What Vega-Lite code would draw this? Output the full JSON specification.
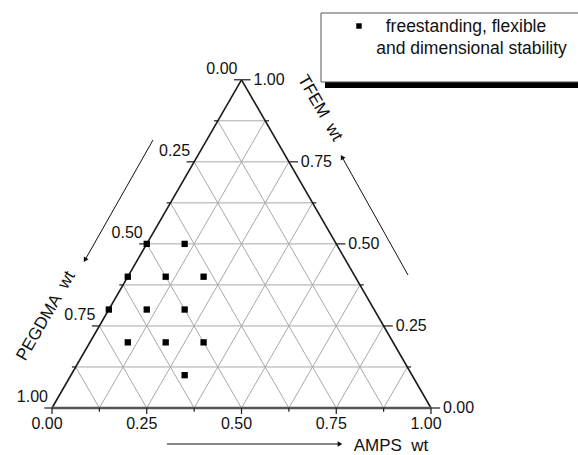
{
  "$schema": "https://vega.github.io/schema/vega-lite/v6.json",
  "width": 578,
  "height": 455,
  "autosize": "none",
  "padding": 0,
  "config": {"view": {"stroke": null}, "font": "Liberation Sans", "text": {"font": "Liberation Sans"}},
  "datasets": {
    "one": [{}],
    "points": [
      {"AMPS": 0.0, "TFEM": 0.5, "PEGDMA": 0.5, "x": 0.25, "y": 0.433013},
      {"AMPS": 0.1, "TFEM": 0.5, "PEGDMA": 0.4, "x": 0.35, "y": 0.433013},
      {"AMPS": 0.0, "TFEM": 0.4, "PEGDMA": 0.6, "x": 0.2, "y": 0.34641},
      {"AMPS": 0.1, "TFEM": 0.4, "PEGDMA": 0.5, "x": 0.3, "y": 0.34641},
      {"AMPS": 0.2, "TFEM": 0.4, "PEGDMA": 0.4, "x": 0.4, "y": 0.34641},
      {"AMPS": 0.0, "TFEM": 0.3, "PEGDMA": 0.7, "x": 0.15, "y": 0.259808},
      {"AMPS": 0.1, "TFEM": 0.3, "PEGDMA": 0.6, "x": 0.25, "y": 0.259808},
      {"AMPS": 0.2, "TFEM": 0.3, "PEGDMA": 0.5, "x": 0.35, "y": 0.259808},
      {"AMPS": 0.1, "TFEM": 0.2, "PEGDMA": 0.7, "x": 0.2, "y": 0.173205},
      {"AMPS": 0.2, "TFEM": 0.2, "PEGDMA": 0.6, "x": 0.3, "y": 0.173205},
      {"AMPS": 0.3, "TFEM": 0.2, "PEGDMA": 0.5, "x": 0.4, "y": 0.173205},
      {"AMPS": 0.3, "TFEM": 0.1, "PEGDMA": 0.6, "x": 0.35, "y": 0.086603}
    ],
    "grid": [
      {"x": 0.0625, "y": 0.108253, "x2": 0.9375, "y2": 0.108253},
      {"x": 0.125, "y": 0.216506, "x2": 0.875, "y2": 0.216506},
      {"x": 0.1875, "y": 0.32476, "x2": 0.8125, "y2": 0.32476},
      {"x": 0.25, "y": 0.433013, "x2": 0.75, "y2": 0.433013},
      {"x": 0.3125, "y": 0.541266, "x2": 0.6875, "y2": 0.541266},
      {"x": 0.375, "y": 0.649519, "x2": 0.625, "y2": 0.649519},
      {"x": 0.4375, "y": 0.757772, "x2": 0.5625, "y2": 0.757772},
      {"x": 0.125, "y": 0, "x2": 0.5625, "y2": 0.757772},
      {"x": 0.25, "y": 0, "x2": 0.625, "y2": 0.649519},
      {"x": 0.375, "y": 0, "x2": 0.6875, "y2": 0.541266},
      {"x": 0.5, "y": 0, "x2": 0.75, "y2": 0.433013},
      {"x": 0.625, "y": 0, "x2": 0.8125, "y2": 0.32476},
      {"x": 0.75, "y": 0, "x2": 0.875, "y2": 0.216506},
      {"x": 0.875, "y": 0, "x2": 0.9375, "y2": 0.108253},
      {"x": 0.125, "y": 0, "x2": 0.0625, "y2": 0.108253},
      {"x": 0.25, "y": 0, "x2": 0.125, "y2": 0.216506},
      {"x": 0.375, "y": 0, "x2": 0.1875, "y2": 0.32476},
      {"x": 0.5, "y": 0, "x2": 0.25, "y2": 0.433013},
      {"x": 0.625, "y": 0, "x2": 0.3125, "y2": 0.541266},
      {"x": 0.75, "y": 0, "x2": 0.375, "y2": 0.649519},
      {"x": 0.875, "y": 0, "x2": 0.4375, "y2": 0.757772}
    ],
    "edges": [
      {"edge": "left", "x": 0, "y": 0, "x2": 0.5, "y2": 0.866025},
      {"edge": "right", "x": 1, "y": 0, "x2": 0.5, "y2": 0.866025}
    ],
    "ticks": [
      {"x": 0.5, "y": 0.866025, "x2": 0.48, "y2": 0.866025},
      {"x": 0.4375, "y": 0.757772, "x2": 0.4275, "y2": 0.757772},
      {"x": 0.375, "y": 0.649519, "x2": 0.355, "y2": 0.649519},
      {"x": 0.3125, "y": 0.541266, "x2": 0.3025, "y2": 0.541266},
      {"x": 0.25, "y": 0.433013, "x2": 0.23, "y2": 0.433013},
      {"x": 0.1875, "y": 0.32476, "x2": 0.1775, "y2": 0.32476},
      {"x": 0.125, "y": 0.216506, "x2": 0.105, "y2": 0.216506},
      {"x": 0.0625, "y": 0.108253, "x2": 0.0525, "y2": 0.108253},
      {"x": 0, "y": 0, "x2": -0.02, "y2": 0},
      {"x": 1, "y": 0, "x2": 1.024, "y2": 0},
      {"x": 0.9375, "y": 0.108253, "x2": 0.9475, "y2": 0.108253},
      {"x": 0.875, "y": 0.216506, "x2": 0.899, "y2": 0.216506},
      {"x": 0.8125, "y": 0.32476, "x2": 0.8225, "y2": 0.32476},
      {"x": 0.75, "y": 0.433013, "x2": 0.774, "y2": 0.433013},
      {"x": 0.6875, "y": 0.541266, "x2": 0.6975, "y2": 0.541266},
      {"x": 0.625, "y": 0.649519, "x2": 0.649, "y2": 0.649519},
      {"x": 0.5625, "y": 0.757772, "x2": 0.5725, "y2": 0.757772},
      {"x": 0.5, "y": 0.866025, "x2": 0.524, "y2": 0.866025},
      {"x": 0, "y": 0, "x2": 0, "y2": -0.016},
      {"x": 0.125, "y": 0, "x2": 0.125, "y2": -0.01},
      {"x": 0.25, "y": 0, "x2": 0.25, "y2": -0.016},
      {"x": 0.375, "y": 0, "x2": 0.375, "y2": -0.01},
      {"x": 0.5, "y": 0, "x2": 0.5, "y2": -0.016},
      {"x": 0.625, "y": 0, "x2": 0.625, "y2": -0.01},
      {"x": 0.75, "y": 0, "x2": 0.75, "y2": -0.016},
      {"x": 0.875, "y": 0, "x2": 0.875, "y2": -0.01},
      {"x": 1, "y": 0, "x2": 1, "y2": -0.016}
    ],
    "labels": [
      {"side": "L", "x": 0.5, "y": 0.866025, "text": "0.00"},
      {"side": "L", "x": 0.375, "y": 0.649519, "text": "0.25"},
      {"side": "L", "x": 0.25, "y": 0.433013, "text": "0.50"},
      {"side": "L", "x": 0.125, "y": 0.216506, "text": "0.75"},
      {"side": "L", "x": 0, "y": 0, "text": "1.00"},
      {"side": "R", "x": 1, "y": 0, "text": "0.00"},
      {"side": "R", "x": 0.875, "y": 0.216506, "text": "0.25"},
      {"side": "R", "x": 0.75, "y": 0.433013, "text": "0.50"},
      {"side": "R", "x": 0.625, "y": 0.649519, "text": "0.75"},
      {"side": "R", "x": 0.5, "y": 0.866025, "text": "1.00"},
      {"side": "B", "x": 0, "y": 0, "text": "0.00"},
      {"side": "B", "x": 0.25, "y": 0, "text": "0.25"},
      {"side": "B", "x": 0.5, "y": 0, "text": "0.50"},
      {"side": "B", "x": 0.75, "y": 0, "text": "0.75"},
      {"side": "B", "x": 1, "y": 0, "text": "1.00"}
    ],
    "arrows": [
      {"x": 0.2665, "y": 0.7071, "x2": 0.0871, "y2": 0.3905},
      {"x": 0.9393, "y": 0.3509, "x2": 0.7652, "y2": 0.6623},
      {"x": 0.3034, "y": -0.095, "x2": 0.7599, "y2": -0.095}
    ]
  },
  "layer": [
    {
      "data": {"name": "grid"},
      "mark": {"type": "rule", "color": "#a8a8a8", "strokeWidth": 1},
      "encoding": {
        "x": {"field": "x", "type": "quantitative", "scale": {"domain": [-0.1372, 1.38786], "nice": false, "zero": false}, "axis": null},
        "y": {"field": "y", "type": "quantitative", "scale": {"domain": [-0.12401, 1.07652], "nice": false, "zero": false}, "axis": null},
        "x2": {"field": "x2"},
        "y2": {"field": "y2"}
      }
    },
    {
      "data": {"name": "edges"},
      "mark": {"type": "rule", "color": "#1a1a1a", "strokeWidth": 1.6},
      "encoding": {
        "x": {"field": "x", "type": "quantitative", "scale": {"domain": [-0.1372, 1.38786], "nice": false, "zero": false}, "axis": null},
        "y": {"field": "y", "type": "quantitative", "scale": {"domain": [-0.12401, 1.07652], "nice": false, "zero": false}, "axis": null},
        "x2": {"field": "x2"},
        "y2": {"field": "y2"}
      }
    },
    {
      "data": {"name": "one"},
      "mark": {"type": "rule", "color": "#555555", "strokeWidth": 2.6},
      "encoding": {
        "x": {"datum": 0, "type": "quantitative", "scale": {"domain": [-0.1372, 1.38786], "nice": false, "zero": false}, "axis": null},
        "y": {"datum": 0, "type": "quantitative", "scale": {"domain": [-0.12401, 1.07652], "nice": false, "zero": false}, "axis": null},
        "x2": {"datum": 1},
        "y2": {"datum": 0}
      }
    },
    {
      "data": {"name": "ticks"},
      "mark": {"type": "rule", "color": "#1a1a1a", "strokeWidth": 1.2},
      "encoding": {
        "x": {"field": "x", "type": "quantitative", "scale": {"domain": [-0.1372, 1.38786], "nice": false, "zero": false}, "axis": null},
        "y": {"field": "y", "type": "quantitative", "scale": {"domain": [-0.12401, 1.07652], "nice": false, "zero": false}, "axis": null},
        "x2": {"field": "x2"},
        "y2": {"field": "y2"}
      }
    },
    {
      "data": {"name": "labels"},
      "transform": [{"filter": "datum.side === 'L'"}],
      "mark": {"type": "text", "align": "right", "baseline": "bottom", "dx": -4, "dy": -3, "fontSize": 16, "color": "#111"},
      "encoding": {
        "x": {"field": "x", "type": "quantitative", "scale": {"domain": [-0.1372, 1.38786], "nice": false, "zero": false}, "axis": null},
        "y": {"field": "y", "type": "quantitative", "scale": {"domain": [-0.12401, 1.07652], "nice": false, "zero": false}, "axis": null},
        "text": {"field": "text"}
      }
    },
    {
      "data": {"name": "labels"},
      "transform": [{"filter": "datum.side === 'R'"}],
      "mark": {"type": "text", "align": "left", "baseline": "middle", "dx": 12, "dy": 0, "fontSize": 16, "color": "#111"},
      "encoding": {
        "x": {"field": "x", "type": "quantitative", "scale": {"domain": [-0.1372, 1.38786], "nice": false, "zero": false}, "axis": null},
        "y": {"field": "y", "type": "quantitative", "scale": {"domain": [-0.12401, 1.07652], "nice": false, "zero": false}, "axis": null},
        "text": {"field": "text"}
      }
    },
    {
      "data": {"name": "labels"},
      "transform": [{"filter": "datum.side === 'B'"}],
      "mark": {"type": "text", "align": "center", "baseline": "top", "dx": -5, "dy": 8, "fontSize": 16, "color": "#111"},
      "encoding": {
        "x": {"field": "x", "type": "quantitative", "scale": {"domain": [-0.1372, 1.38786], "nice": false, "zero": false}, "axis": null},
        "y": {"field": "y", "type": "quantitative", "scale": {"domain": [-0.12401, 1.07652], "nice": false, "zero": false}, "axis": null},
        "text": {"field": "text"}
      }
    },
    {
      "data": {"name": "points"},
      "mark": {"type": "point", "shape": "square", "filled": true, "size": 40, "color": "#000", "opacity": 1},
      "encoding": {
        "x": {"field": "x", "type": "quantitative", "scale": {"domain": [-0.1372, 1.38786], "nice": false, "zero": false}, "axis": null},
        "y": {"field": "y", "type": "quantitative", "scale": {"domain": [-0.12401, 1.07652], "nice": false, "zero": false}, "axis": null}
      }
    },
    {
      "data": {"name": "one"},
      "mark": {"type": "text", "text": "PEGDMA\u00a0\u00a0wt", "angle": -60, "align": "center", "baseline": "middle", "fontSize": 17, "color": "#111"},
      "encoding": {
        "x": {"datum": -0.0158, "type": "quantitative", "scale": {"domain": [-0.1372, 1.38786], "nice": false, "zero": false}, "axis": null},
        "y": {"datum": 0.2427, "type": "quantitative", "scale": {"domain": [-0.12401, 1.07652], "nice": false, "zero": false}, "axis": null}
      }
    },
    {
      "data": {"name": "one"},
      "mark": {"type": "text", "text": "TFEM\u00a0\u00a0wt", "angle": 60, "align": "center", "baseline": "middle", "fontSize": 17, "color": "#111"},
      "encoding": {
        "x": {"datum": 0.7071, "type": "quantitative", "scale": {"domain": [-0.1372, 1.38786], "nice": false, "zero": false}, "axis": null},
        "y": {"datum": 0.7916, "type": "quantitative", "scale": {"domain": [-0.12401, 1.07652], "nice": false, "zero": false}, "axis": null}
      }
    },
    {
      "data": {"name": "one"},
      "mark": {"type": "text", "text": "AMPS\u00a0\u00a0wt", "align": "center", "baseline": "middle", "fontSize": 17, "color": "#111"},
      "encoding": {
        "x": {"datum": 0.8945, "type": "quantitative", "scale": {"domain": [-0.1372, 1.38786], "nice": false, "zero": false}, "axis": null},
        "y": {"datum": -0.1005, "type": "quantitative", "scale": {"domain": [-0.12401, 1.07652], "nice": false, "zero": false}, "axis": null}
      }
    },
    {
      "data": {"name": "arrows"},
      "mark": {"type": "rule", "color": "#111", "strokeWidth": 1},
      "encoding": {
        "x": {"field": "x", "type": "quantitative", "scale": {"domain": [-0.1372, 1.38786], "nice": false, "zero": false}, "axis": null},
        "y": {"field": "y", "type": "quantitative", "scale": {"domain": [-0.12401, 1.07652], "nice": false, "zero": false}, "axis": null},
        "x2": {"field": "x2"},
        "y2": {"field": "y2"}
      }
    },
    {
      "data": {"name": "one"},
      "mark": {"type": "point", "shape": "triangle-up", "filled": true, "size": 30, "angle": 210, "color": "#111", "opacity": 1},
      "encoding": {
        "x": {"datum": 0.0871, "type": "quantitative", "scale": {"domain": [-0.1372, 1.38786], "nice": false, "zero": false}, "axis": null},
        "y": {"datum": 0.3905, "type": "quantitative", "scale": {"domain": [-0.12401, 1.07652], "nice": false, "zero": false}, "axis": null}
      }
    },
    {
      "data": {"name": "one"},
      "mark": {"type": "point", "shape": "triangle-up", "filled": true, "size": 30, "angle": 330, "color": "#111", "opacity": 1},
      "encoding": {
        "x": {"datum": 0.7652, "type": "quantitative", "scale": {"domain": [-0.1372, 1.38786], "nice": false, "zero": false}, "axis": null},
        "y": {"datum": 0.6623, "type": "quantitative", "scale": {"domain": [-0.12401, 1.07652], "nice": false, "zero": false}, "axis": null}
      }
    },
    {
      "data": {"name": "one"},
      "mark": {"type": "point", "shape": "triangle-up", "filled": true, "size": 30, "angle": 90, "color": "#111", "opacity": 1},
      "encoding": {
        "x": {"datum": 0.7599, "type": "quantitative", "scale": {"domain": [-0.1372, 1.38786], "nice": false, "zero": false}, "axis": null},
        "y": {"datum": -0.095, "type": "quantitative", "scale": {"domain": [-0.12401, 1.07652], "nice": false, "zero": false}, "axis": null}
      }
    },
    {
      "data": {"name": "one"},
      "mark": {"type": "rect", "color": "#000"},
      "encoding": {
        "x": {"datum": 0.7203, "type": "quantitative", "scale": {"domain": [-0.1372, 1.38786], "nice": false, "zero": false}, "axis": null},
        "y": {"datum": 0.8602, "type": "quantitative", "scale": {"domain": [-0.12401, 1.07652], "nice": false, "zero": false}, "axis": null},
        "x2": {"datum": 1.42},
        "y2": {"datum": 0.8443}
      }
    },
    {
      "data": {"name": "one"},
      "mark": {"type": "rect", "fill": "#fff", "stroke": "#555", "strokeWidth": 1},
      "encoding": {
        "x": {"datum": 0.7098, "type": "quantitative", "scale": {"domain": [-0.1372, 1.38786], "nice": false, "zero": false}, "axis": null},
        "y": {"datum": 1.0422, "type": "quantitative", "scale": {"domain": [-0.12401, 1.07652], "nice": false, "zero": false}, "axis": null},
        "x2": {"datum": 1.42},
        "y2": {"datum": 0.8602}
      }
    },
    {
      "data": {"name": "one"},
      "mark": {"type": "point", "shape": "square", "filled": true, "size": 30, "color": "#000", "opacity": 1},
      "encoding": {
        "x": {"datum": 0.81, "type": "quantitative", "scale": {"domain": [-0.1372, 1.38786], "nice": false, "zero": false}, "axis": null},
        "y": {"datum": 1.0079, "type": "quantitative", "scale": {"domain": [-0.12401, 1.07652], "nice": false, "zero": false}, "axis": null}
      }
    },
    {
      "data": {"name": "one"},
      "mark": {"type": "text", "text": "freestanding, flexible", "align": "center", "baseline": "middle", "fontSize": 17.5, "color": "#111"},
      "encoding": {
        "x": {"datum": 1.0923, "type": "quantitative", "scale": {"domain": [-0.1372, 1.38786], "nice": false, "zero": false}, "axis": null},
        "y": {"datum": 1.0053, "type": "quantitative", "scale": {"domain": [-0.12401, 1.07652], "nice": false, "zero": false}, "axis": null}
      }
    },
    {
      "data": {"name": "one"},
      "mark": {"type": "text", "text": "and dimensional stability", "align": "center", "baseline": "middle", "fontSize": 17.5, "color": "#111"},
      "encoding": {
        "x": {"datum": 1.1069, "type": "quantitative", "scale": {"domain": [-0.1372, 1.38786], "nice": false, "zero": false}, "axis": null},
        "y": {"datum": 0.9472, "type": "quantitative", "scale": {"domain": [-0.12401, 1.07652], "nice": false, "zero": false}, "axis": null}
      }
    }
  ]
}
